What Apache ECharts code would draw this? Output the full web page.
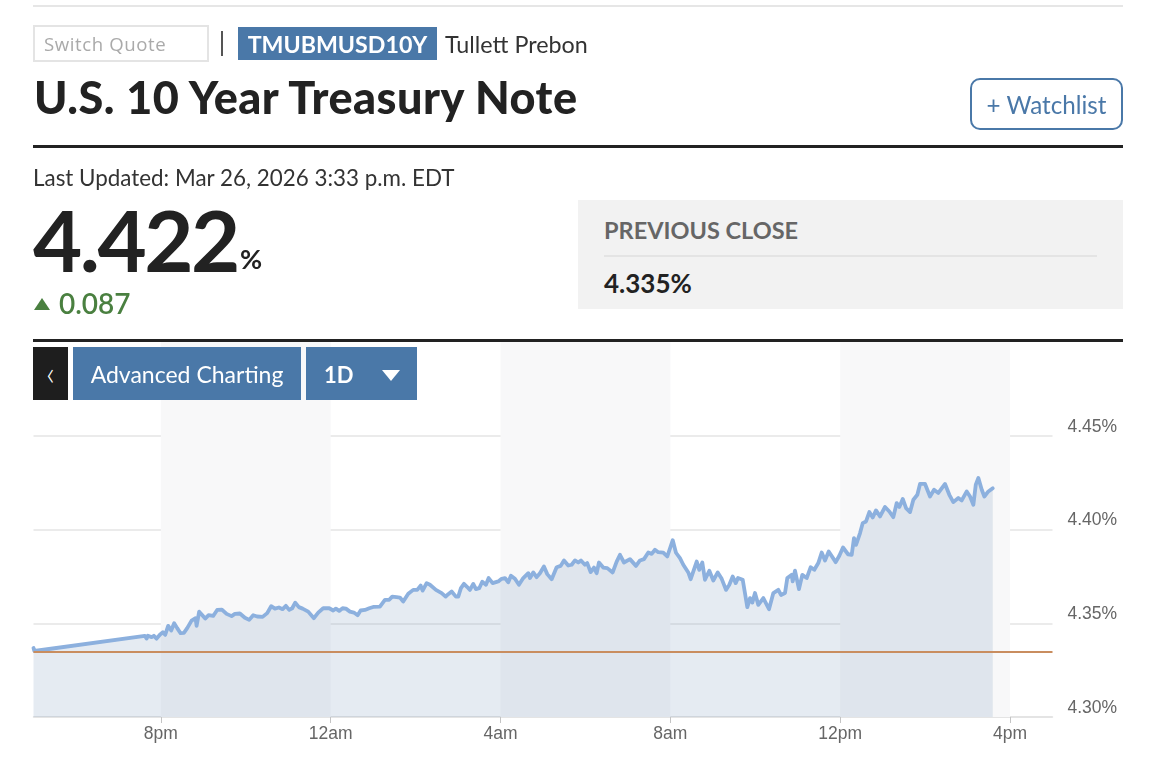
<!DOCTYPE html>
<html>
<head>
<meta charset="utf-8">
<title>U.S. 10 Year Treasury Note</title>
<script src="https://cdn.jsdelivr.net/npm/echarts@6/dist/echarts.min.js"></script>
<style>
  html, body { margin: 0; padding: 0; background: #fff; width: 1166px; height: 765px; overflow: hidden; }
  body { font-family: Lato, sans-serif; color: #222; position: relative; }
  #chart { position: absolute; left: 0; top: 0; width: 1166px; height: 765px; }
  .a { position: absolute; white-space: nowrap; z-index: 2; }
  .blue { background: #4a78a8; color: #fff; }
</style>
</head>
<body>
<div id="chart"></div>

<div class="a" style="left:33px;top:5px;width:1090px;height:2px;background:#e6e6e6"></div>
<div class="a" style="left:33px;top:25px;width:172px;height:33px;border:2px solid #e4e4e4;font:18.6px/34px 'Open Sans';color:#aaa;letter-spacing:.6px;text-indent:9px">Switch Quote</div>
<div class="a" style="left:221px;top:31px;width:2px;height:25px;background:#555"></div>
<div class="a blue" style="left:238px;top:27px;width:199px;height:33px;font:700 23.2px/34px Lato;text-align:center">TMUBMUSD10Y</div>
<div class="a" style="left:445px;top:27px;font:23.3px/34px Lato;color:#333">Tullett Prebon</div>
<div class="a" style="left:34px;top:70px;font:900 45px/54px Lato;letter-spacing:.5px;color:#222">U.S. 10 Year Treasury Note</div>
<div class="a" style="left:970px;top:78px;width:149px;height:48px;border:2px solid #4a78a8;border-radius:10px;font:24.2px/50px Lato;color:#4a78a8;text-align:center">+ Watchlist</div>
<div class="a" style="left:33px;top:145px;width:1090px;height:3px;background:#222"></div>

<div class="a" style="left:33px;top:164px;font:22.4px/28px Lato;color:#333">Last Updated: Mar 26, 2026 3:33 p.m. EDT</div>
<div class="a" style="left:33px;top:187px;font:700 85px/104px Lato;letter-spacing:-2.5px;color:#222">4.422</div>
<div class="a" style="left:240px;top:243px;font:700 27px/32px Lato;color:#222">%</div>
<div class="a" style="left:34px;top:298px;width:0;height:0;border-left:8.5px solid transparent;border-right:8.5px solid transparent;border-bottom:12px solid #4a8040"></div>
<div class="a" style="left:59px;top:286px;font:600 28px/34px Lato;color:#4a8040">0.087</div>

<div class="a" style="left:578px;top:200px;width:545px;height:109px;background:#f2f2f2"></div>
<div class="a" style="left:604px;top:215px;font:700 23.5px/30px Lato;color:#666">PREVIOUS CLOSE</div>
<div class="a" style="left:604px;top:255px;width:493px;height:2px;background:#e4e4e4"></div>
<div class="a" style="left:604px;top:268px;font:700 26px/30px Lato;color:#222">4.335%</div>

<div class="a" style="left:33px;top:339px;width:1090px;height:3px;background:#222"></div>
<div class="a" style="left:33px;top:347px;width:35px;height:53px;background:#1e1e1e;color:#fff;font:300 34px/49px Lato;text-align:center">‹</div>
<div class="a blue" style="left:73px;top:347px;width:228px;height:53px;font:23px/55px Lato;text-align:center">Advanced Charting</div>
<div class="a blue" style="left:306px;top:347px;width:111px;height:53px"></div>
<div class="a" style="left:324px;top:347px;font:700 22px/55px Lato;color:#fff">1D</div>
<div class="a" style="left:382px;top:370px;width:0;height:0;border-left:9px solid transparent;border-right:9px solid transparent;border-top:11px solid #fff"></div>

<script>
// hours counted from 4pm the day before (4 = 8pm, 8 = 12am, ... 24 = 4pm)
const hours = [
  1.0, 1.02, 3.623, 3.663, 3.694, 3.781, 3.835, 3.899, 3.976, 4.047, 4.101, 4.172, 4.243, 4.313, 4.384, 4.464,
  4.542, 4.62, 4.723, 4.817, 4.841, 4.902, 4.966, 5.044, 5.124, 5.232, 5.326, 5.437, 5.548, 5.665, 5.743, 5.861,
  5.979, 6.08, 6.174, 6.269, 6.396, 6.504, 6.598, 6.686, 6.78, 6.867, 6.945, 7.022, 7.093, 7.164, 7.251, 7.338,
  7.47, 7.604, 7.706, 7.823, 7.965, 8.059, 8.122, 8.2, 8.28, 8.358, 8.452, 8.546, 8.634, 8.704, 8.806, 8.907,
  9.001, 9.159, 9.277, 9.378, 9.449, 9.552, 9.63, 9.708, 9.826, 9.943, 10.038, 10.118, 10.165, 10.259, 10.337, 10.478,
  10.613, 10.707, 10.768, 10.848, 10.949, 11.004, 11.067, 11.138, 11.216, 11.279, 11.357, 11.42, 11.498, 11.569, 11.656, 11.72,
  11.814, 11.946, 12.026, 12.104, 12.182, 12.245, 12.339, 12.433, 12.535, 12.653, 12.693, 12.77, 12.85, 12.928, 13.022, 13.1,
  13.204, 13.321, 13.416, 13.494, 13.595, 13.675, 13.753, 13.83, 13.894, 13.988, 14.042, 14.122, 14.2, 14.264, 14.318, 14.419,
  14.514, 14.641, 14.735, 14.813, 14.907, 15.048, 15.19, 15.284, 15.378, 15.48, 15.56, 15.637, 15.715, 15.833, 15.927, 16.056,
  16.132, 16.226, 16.304, 16.422, 16.478, 16.62, 16.681, 16.752, 16.815, 16.917, 17.011, 17.115, 17.209, 17.31, 17.388, 17.468,
  17.539, 17.593, 17.704, 17.812, 17.876, 17.93, 17.993, 18.071, 18.189, 18.323, 18.425, 18.542, 18.606, 18.7, 18.754, 18.858,
  18.881, 18.935, 19.029, 19.107, 19.211, 19.305, 19.39, 19.484, 19.564, 19.642, 19.729, 19.894, 19.979, 20.066, 20.184, 20.271,
  20.325, 20.372, 20.467, 20.53, 20.608, 20.686, 20.766, 20.843, 20.938, 21.055, 21.157, 21.251, 21.331, 21.393, 21.473, 21.551,
  21.645, 21.723, 21.817, 21.88, 21.998, 22.115, 22.21, 22.311, 22.469, 22.57, 22.664, 22.782, 22.862, 22.98, 23.058, 23.136,
  23.193, 23.254, 23.334, 23.395, 23.489, 23.593
]
const yields = [
  4.3368, 4.3352, 4.3433, 4.3418, 4.3433, 4.3426, 4.3433, 4.3418, 4.3439, 4.3452, 4.3438, 4.3486, 4.3461, 4.35, 4.3474, 4.3447,
  4.3449, 4.3474, 4.3514, 4.3527, 4.3486, 4.3562, 4.3545, 4.3525, 4.3543, 4.3539, 4.3571, 4.3573, 4.355, 4.3538, 4.355, 4.3552,
  4.3529, 4.3518, 4.3543, 4.3536, 4.3534, 4.3554, 4.3591, 4.3578, 4.3584, 4.3575, 4.3593, 4.3571, 4.358, 4.361, 4.3586, 4.3578,
  4.3562, 4.3527, 4.3557, 4.358, 4.358, 4.3568, 4.3578, 4.3566, 4.358, 4.3578, 4.3562, 4.3557, 4.3543, 4.3568, 4.3571, 4.358,
  4.3587, 4.3589, 4.3625, 4.3625, 4.3642, 4.3639, 4.3637, 4.3616, 4.3657, 4.3678, 4.3678, 4.3701, 4.3674, 4.3714, 4.3705, 4.3678,
  4.3661, 4.3642, 4.3655, 4.3669, 4.3642, 4.3642, 4.3687, 4.371, 4.3693, 4.3678, 4.371, 4.3682, 4.3687, 4.3721, 4.3705, 4.3741,
  4.3714, 4.3723, 4.3737, 4.3741, 4.3719, 4.3753, 4.3737, 4.3705, 4.3741, 4.3767, 4.3741, 4.3771, 4.3746, 4.3767, 4.3803, 4.3762,
  4.3735, 4.3799, 4.3806, 4.3835, 4.3808, 4.3812, 4.3835, 4.3824, 4.3835, 4.3812, 4.3821, 4.3773, 4.3797, 4.3767, 4.3824, 4.3797,
  4.3794, 4.3771, 4.3829, 4.3865, 4.3824, 4.3842, 4.3806, 4.3835, 4.3842, 4.3877, 4.387, 4.3892, 4.3879, 4.3877, 4.3856, 4.3943,
  4.3876, 4.3847, 4.3812, 4.3771, 4.3735, 4.3829, 4.3785, 4.3824, 4.3732, 4.378, 4.3728, 4.3771, 4.3737, 4.3678, 4.3705, 4.3749,
  4.3714, 4.3741, 4.3732, 4.3586, 4.3634, 4.361, 4.3661, 4.3598, 4.3634, 4.3575, 4.3661, 4.3678, 4.3651, 4.3661, 4.3741, 4.3758,
  4.3723, 4.3781, 4.3682, 4.3758, 4.3741, 4.3799, 4.3785, 4.3821, 4.3877, 4.3835, 4.3883, 4.3826, 4.386, 4.3904, 4.3868, 4.3865,
  4.3954, 4.3918, 4.3981, 4.4034, 4.4043, 4.4093, 4.4064, 4.4102, 4.407, 4.412, 4.4096, 4.4066, 4.4141, 4.412, 4.4163, 4.4114,
  4.4093, 4.4159, 4.4185, 4.4243, 4.4243, 4.4176, 4.4212, 4.4195, 4.4243, 4.4185, 4.4146, 4.4168, 4.4155, 4.4203, 4.4176, 4.4132,
  4.4239, 4.4275, 4.4212, 4.4176, 4.4203, 4.422
]
const previousClose = 4.335
const xTicks = [4, 8, 12, 16, 20, 24]
const xTickLabels = ['8pm', '12am', '4am', '8am', '12pm', '4pm']
const yTicks = [4.3, 4.35, 4.4, 4.45]
const shadedBands = [[4, 8], [12, 16], [20, 24]]

const myChart = echarts.init(document.getElementById('chart'), null, { renderer: 'canvas' })

const option = {
  animation: false,
  grid: { left: 33.5, right: 113.5, top: 342, bottom: 48, containLabel: false },
  xAxis: {
    type: 'value',
    min: 1,
    max: 25,
    splitLine: { show: false },
    axisLine: { lineStyle: { color: '#e2e2e2', width: 1.5 } },
    axisTick: { customValues: xTicks, length: 6, lineStyle: { color: '#c4c4c4' } },
    axisLabel: {
      customValues: xTicks,
      margin: 8,
      color: '#666',
      fontFamily: 'Liberation Sans',
      fontSize: 17.5,
      formatter: v => xTickLabels[xTicks.indexOf(v)]
    }
  },
  yAxis: {
    type: 'value',
    position: 'right',
    min: 4.3,
    max: 4.5,
    interval: 0.05,
    axisLine: { show: false },
    axisTick: { show: false },
    splitLine: { showMaxLine: false, lineStyle: { color: '#e4e4e4', width: 1.5 } },
    axisLabel: {
      customValues: yTicks,
      margin: 15,
      color: '#666',
      fontFamily: 'Liberation Sans',
      fontSize: 17.5,
      verticalAlign: 'bottom',
      formatter: v => v.toFixed(2) + '%'
    }
  },
  series: [
    {
      name: 'bands',
      type: 'line',
      z: 1,
      silent: true,
      data: [],
      markArea: {
        silent: true,
        itemStyle: { color: '#f8f8f9' },
        data: shadedBands.map(b => [{ xAxis: b[0] }, { xAxis: b[1] }])
      }
    },
    {
      name: 'TMUBMUSD10Y',
      type: 'line',
      z: 3,
      showSymbol: false,
      smooth: false,
      data: hours.map((h, i) => [h, yields[i]]),
      lineStyle: { color: '#8cb0de', width: 3.8, cap: 'round', join: 'round' },
      areaStyle: { color: 'rgba(100,135,175,0.17)', opacity: 1, origin: 'start' },
      markLine: {
        silent: true,
        symbol: 'none',
        animation: false,
        precision: 3,
        label: { show: false },
        lineStyle: { color: '#c98d5f', width: 2, type: 'solid' },
        data: [{ yAxis: previousClose }]
      }
    }
  ]
}

myChart.setOption(option)
</script>
</body>
</html>
